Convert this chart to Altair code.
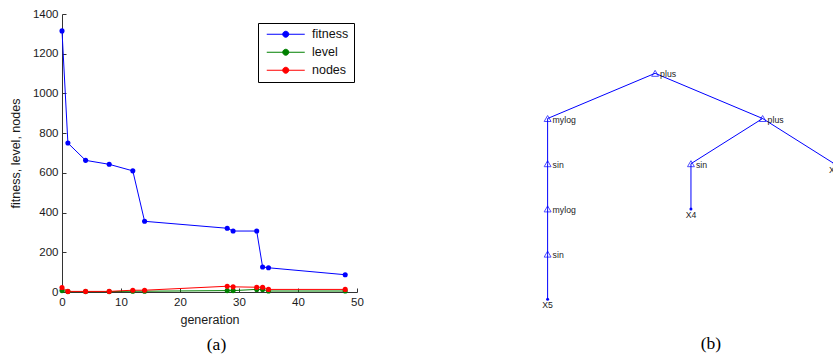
import altair as alt
import pandas as pd

# ---------------- data: panel (a) ----------------
generation = [0, 1, 4, 8, 12, 14, 28, 29, 33, 34, 35, 48]
fitness = [1315, 750, 663, 643, 610, 356, 321, 307, 307, 126, 122, 87]
level = [7, 2, 2, 2, 4, 4, 7, 7, 13, 13, 5, 5]
nodes = [23, 3, 3, 3, 9, 9, 29, 26, 24, 24, 13, 13]
series_names = ["fitness", "level", "nodes"]
series_colors = ["#0000ff", "#008000", "#ff0000"]
x_ticks = [0, 10, 20, 30, 40, 50]
y_ticks = [0, 200, 400, 600, 800, 1000, 1200, 1400]

# ---------------- data: panel (b) tree ----------------
tree_labels = ["plus", "mylog", "sin", "mylog", "sin", "X5", "plus", "sin", "X4", "X2"]
tree_pos = [1.75, 1, 1, 1, 1, 1, 2.5, 2, 2, 3]
tree_depth = [0, 1, 2, 3, 4, 5, 1, 2, 3, 2]
tree_parent = [None, 0, 1, 2, 3, 4, 0, 6, 7, 6]
tree_leaf = [False, False, False, False, False, True, False, False, True, True]

rows = []
for name, vals in zip(series_names, [fitness, level, nodes]):
    for g, v in zip(generation, vals):
        rows.append({"generation": g, "value": v, "series": name})
df_a = pd.DataFrame(rows)

df_nodes = pd.DataFrame({"label": tree_labels, "pos": tree_pos,
                         "depth": tree_depth, "leaf": tree_leaf})
edge_rows = []
for i, p in enumerate(tree_parent):
    if p is not None:
        edge_rows.append({"px": tree_pos[p], "py": tree_depth[p],
                          "cx": tree_pos[i], "cy": tree_depth[i]})
df_edges = pd.DataFrame(edge_rows)

FONT = "Liberation Sans"
W_A, H_A = 295, 278

# legend symbol: a line with a dot (box of size 100 -> unit = 5px)
legend_path = "M-3.8,0H3.8M-0.6,0A0.6,0.6,0,1,1,0.6,0A0.6,0.6,0,1,1,-0.6,0Z"

xs_a = alt.Scale(domain=[0, 50], nice=False)
ys_a = alt.Scale(domain=[0, 1400], nice=False)

color = alt.Color(
    "series:N",
    scale=alt.Scale(domain=series_names, range=series_colors),
    legend=alt.Legend(
        orient="none", legendX=196, legendY=9, title=None,
        fillColor="white", strokeColor="black", padding=5, rowPadding=5,
        labelFont=FONT, labelFontSize=12.5, labelColor="#111111",
        symbolType=legend_path, symbolSize=100, symbolStrokeWidth=1,
        symbolOffset=16.5, labelOffset=20,
    ),
)

lines = alt.Chart(df_a).mark_line(strokeWidth=1).encode(
    x=alt.X("generation:Q", scale=xs_a,
            axis=alt.Axis(values=x_ticks, tickSize=0, labelPadding=4, labelFlush=False,
                          title="generation", titlePadding=6, grid=False)),
    y=alt.Y("value:Q", scale=ys_a,
            axis=alt.Axis(values=y_ticks, tickSize=0, labelPadding=4, format="d",
                          labelFlush=False,
                          title="fitness, level, nodes", titlePadding=10, grid=False)),
    color=color,
)
points = alt.Chart(df_a).mark_point(filled=True, size=26, opacity=1).encode(
    x=alt.X("generation:Q", scale=xs_a, axis=None),
    y=alt.Y("value:Q", scale=ys_a, axis=None),
    color=alt.Color("series:N"),
)
inner_ticks = alt.Chart(df_a).mark_point(opacity=0).encode(
    x=alt.X("generation:Q", scale=xs_a,
            axis=alt.Axis(orient="top", offset=-H_A, values=x_ticks, labels=False,
                          domain=False, tickSize=4, tickColor="#333333",
                          title=None, grid=False)),
    y=alt.Y("value:Q", scale=ys_a,
            axis=alt.Axis(orient="right", offset=-W_A, values=y_ticks, labels=False,
                          domain=False, tickSize=4, tickColor="#333333",
                          title=None, grid=False)),
)

panel_a = alt.layer(lines, points, inner_ticks).resolve_axis(
    x="independent", y="independent"
).properties(
    width=W_A, height=H_A,
    title=alt.TitleParams("(a)", orient="bottom", anchor="middle", frame="group",
                          dx=7, offset=10, font="Liberation Serif", fontSize=17.5,
                          fontWeight="normal", color="black"),
)

# ---------------- panel (b) ----------------
W_B, H_B = 344, 302
xs_b = alt.Scale(domain=[0.591, 2.991], nice=False, zero=False)
ys_b = alt.Scale(domain=[-1.312, 5.3694], nice=False, zero=False, reverse=True)
BLUE = "#0000ff"

edges = alt.Chart(df_edges).mark_rule(color=BLUE, strokeWidth=1, clip=True).encode(
    x=alt.X("px:Q", scale=xs_b, axis=None),
    y=alt.Y("py:Q", scale=ys_b, axis=None),
    x2="cx:Q", y2="cy:Q",
)
tri = alt.Chart(df_nodes).transform_filter("!datum.leaf").mark_point(
    shape="triangle-up", filled=False, color=BLUE, size=48, strokeWidth=1, clip=True
).encode(x=alt.X("pos:Q", scale=xs_b, axis=None), y=alt.Y("depth:Q", scale=ys_b, axis=None))
leafdot = alt.Chart(df_nodes).transform_filter("datum.leaf").mark_point(
    shape="circle", filled=True, color=BLUE, size=9, opacity=1, clip=True
).encode(x=alt.X("pos:Q", scale=xs_b, axis=None), y=alt.Y("depth:Q", scale=ys_b, axis=None))
int_text = alt.Chart(df_nodes).transform_filter("!datum.leaf").mark_text(
    align="left", baseline="middle", dx=5, dy=1, font=FONT, fontSize=8.7,
    color="#222222", clip=True
).encode(x=alt.X("pos:Q", scale=xs_b, axis=None), y=alt.Y("depth:Q", scale=ys_b, axis=None),
         text="label:N")
leaf_text = alt.Chart(df_nodes).transform_filter("datum.leaf").mark_text(
    align="center", baseline="top", dy=2, font=FONT, fontSize=8.7,
    color="#222222", clip=True
).encode(x=alt.X("pos:Q", scale=xs_b, axis=None), y=alt.Y("depth:Q", scale=ys_b, axis=None),
         text="label:N")

panel_b = alt.layer(edges, tri, leafdot, int_text, leaf_text).properties(
    width=W_B, height=H_B,
    title=alt.TitleParams("(b)", orient="bottom", anchor="middle", frame="group",
                          dx=50, offset=19, font="Liberation Serif", fontSize=17.5,
                          fontWeight="normal", color="black"),
)

chart = alt.hconcat(panel_a, panel_b, spacing=125).properties(
    padding={"left": 9, "top": 8, "right": 0, "bottom": 0}
).configure_view(stroke=None).configure_axis(
    labelFont=FONT, titleFont=FONT, labelFontSize=11.5, titleFontSize=12.5,
    titleFontWeight="normal", labelColor="#1a1a1a", titleColor="#1a1a1a",
    domainColor="#333333", grid=False,
)

chart.save("out.html", embed_options={"renderer": "svg", "actions": False})
